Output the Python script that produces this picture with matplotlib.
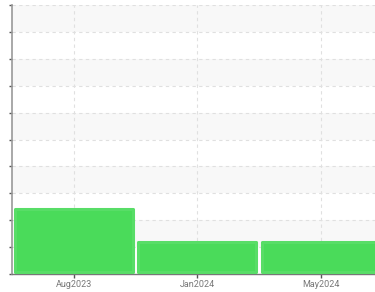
import matplotlib.pyplot as plt

# data
months = ["Aug2023", "Jan2024", "May2024"]
values = [2.4, 1.18, 1.18]
y_ticks = list(range(0, 11))

bar_color = "#4ADB5A"
edge_color = "#58DD67"

fig = plt.figure(figsize=(3.75, 2.92), dpi=100)
ax = fig.add_axes([12 / 375, 18 / 292, 1 - 12 / 375, (274 - 5) / 292])

ax.set_xlim(-0.5, 2.44)
ax.set_ylim(0, 10)

# alternating bands
for i in range(len(y_ticks) - 1):
    if i % 2 == 1:
        ax.axhspan(y_ticks[i], y_ticks[i + 1], color="#F8F8F8", zorder=0, lw=0)

# grid
ax.set_yticks(y_ticks)
ax.set_xticks(range(len(months)))
ax.set_xticklabels(months)
ax.grid(True, color="#E0E0E0", linestyle=(0, (3, 3)), linewidth=0.8, zorder=1)
ax.set_axisbelow(True)

# bars, rounded corners through round join on a thick edge
bars = ax.bar(range(len(months)), [v - 0.08 for v in values], bottom=0.08,
              width=0.955, color=bar_color, edgecolor=edge_color,
              linewidth=2.2, zorder=3)
for b in bars:
    b.set_joinstyle("round")

# spines
for s in ["top", "right"]:
    ax.spines[s].set_visible(False)
ax.spines["left"].set_color("#999999")
ax.spines["left"].set_linewidth(1.2)
ax.spines["bottom"].set_color("#777777")
ax.spines["bottom"].set_linewidth(1.0)

ax.tick_params(axis="y", length=2, width=1, color="#555555", labelleft=False)
ax.tick_params(axis="x", length=3, width=1, color="#555555",
               labelsize=6.5, labelcolor="#777777", pad=1)
for lbl in ax.get_xticklabels():
    lbl.set_family("Roboto")

fig.savefig("out.png", dpi=100)
